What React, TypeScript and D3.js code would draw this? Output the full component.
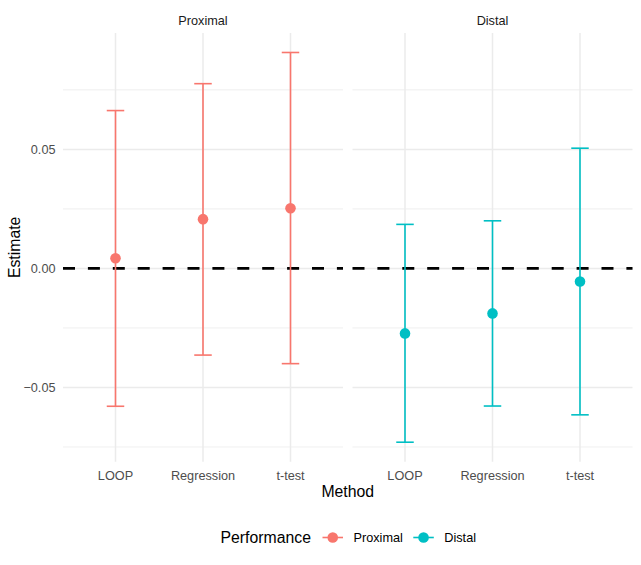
import React, {useRef, useEffect} from 'react';
import * as d3 from 'd3';

const methods = ['LOOP', 'Regression', 't-test'];
const performance = ['Proximal', 'Distal'];
const colors = ['#F8766D', '#00BFC4'];

const proximalEstimate = [0.0043, 0.0207, 0.0253];
const proximalLower = [-0.0579, -0.0364, -0.0400];
const proximalUpper = [0.0663, 0.0776, 0.0907];

const distalEstimate = [-0.0273, -0.0189, -0.0055];
const distalLower = [-0.0730, -0.0578, -0.0615];
const distalUpper = [0.0185, 0.0200, 0.0505];

const majorTicks = [-0.05, 0, 0.05];
const minorTicks = [-0.075, -0.025, 0.025, 0.075];

const W = 641;
const H = 565;
const FONT = '"Liberation Sans", Arial, Helvetica, sans-serif';

const App: React.FC = () => {
    const svgRef = useRef<SVGSVGElement>(null);

    useEffect(() => {
        document.body.style.margin = '0';
        if (!svgRef.current) return;
        const svg = d3.select(svgRef.current);
        svg.selectAll('*').remove();

        const panelTop = 33;
        const panelBottom = 461.7;
        const panels = [
            {x0: 63, x1: 343},
            {x0: 352.5, x1: 632.5},
        ];

        const series = [
            {est: proximalEstimate, lo: proximalLower, hi: proximalUpper},
            {est: distalEstimate, lo: distalLower, hi: distalUpper},
        ];

        // y 范围 + 5% 扩展
        const allVals = series.flatMap(s => [...s.lo, ...s.hi]);
        const yMin = d3.min(allVals) as number;
        const yMax = d3.max(allVals) as number;
        const pad = (yMax - yMin) * 0.05;
        const y = d3.scaleLinear()
            .domain([yMin - pad, yMax + pad])
            .range([panelBottom, panelTop]);

        panels.forEach((p, pi) => {
            const x = d3.scalePoint<string>()
                .domain(methods)
                .range([p.x0, p.x1])
                .padding(0.6);
            const g = svg.append('g');

            // 网格
            minorTicks.forEach(t => {
                g.append('line')
                    .attr('x1', p.x0).attr('x2', p.x1)
                    .attr('y1', y(t)).attr('y2', y(t))
                    .style('stroke', '#EBEBEB')
                    .style('stroke-width', 0.8);
            });
            majorTicks.forEach(t => {
                g.append('line')
                    .attr('x1', p.x0).attr('x2', p.x1)
                    .attr('y1', y(t)).attr('y2', y(t))
                    .style('stroke', '#EBEBEB')
                    .style('stroke-width', 1.5);
            });
            methods.forEach(m => {
                g.append('line')
                    .attr('x1', x(m)!).attr('x2', x(m)!)
                    .attr('y1', panelTop).attr('y2', panelBottom)
                    .style('stroke', '#EBEBEB')
                    .style('stroke-width', 1.5);
            });

            // 零线
            g.append('line')
                .attr('x1', p.x0).attr('x2', p.x1)
                .attr('y1', y(0)).attr('y2', y(0))
                .style('stroke', '#000')
                .style('stroke-width', 2.8)
                .style('stroke-dasharray', '12 12.9');

            // 误差线
            const s = series[pi];
            const color = colors[pi];
            const capHalf = 8.75;
            methods.forEach((m, i) => {
                const cx = x(m)!;
                g.append('line')
                    .attr('x1', cx).attr('x2', cx)
                    .attr('y1', y(s.lo[i])).attr('y2', y(s.hi[i]))
                    .style('stroke', color).style('stroke-width', 1.6);
                [s.lo[i], s.hi[i]].forEach(v => {
                    g.append('line')
                        .attr('x1', cx - capHalf).attr('x2', cx + capHalf)
                        .attr('y1', y(v)).attr('y2', y(v))
                        .style('stroke', color).style('stroke-width', 1.6);
                });
                g.append('circle')
                    .attr('cx', cx).attr('cy', y(s.est[i]))
                    .attr('r', 5.3)
                    .style('fill', color);

                // x 刻度标签
                svg.append('text')
                    .attr('x', cx).attr('y', 479.5)
                    .attr('text-anchor', 'middle')
                    .style('font-family', FONT)
                    .style('font-size', '12.7px')
                    .style('fill', '#4D4D4D')
                    .text(m);
            });

            // 分面标题
            svg.append('text')
                .attr('x', (p.x0 + p.x1) / 2).attr('y', 25)
                .attr('text-anchor', 'middle')
                .style('font-family', FONT)
                .style('font-size', '12.7px')
                .style('fill', '#1A1A1A')
                .text(performance[pi]);
        });

        // y 刻度标签
        majorTicks.forEach(t => {
            svg.append('text')
                .attr('x', 55.5).attr('y', y(t))
                .attr('dy', '0.35em')
                .attr('text-anchor', 'end')
                .style('font-family', FONT)
                .style('font-size', '12.7px')
                .style('fill', '#4D4D4D')
                .text(d3.format('.2f')(t));
        });

        // 轴标题
        svg.append('text')
            .attr('x', (panels[0].x0 + panels[1].x1) / 2).attr('y', 497)
            .attr('text-anchor', 'middle')
            .style('font-family', FONT)
            .style('font-size', '15.8px')
            .style('fill', '#000')
            .text('Method');

        svg.append('text')
            .attr('transform', `translate(19.5, ${(panelTop + panelBottom) / 2}) rotate(-90)`)
            .attr('text-anchor', 'middle')
            .style('font-family', FONT)
            .style('font-size', '15.8px')
            .style('fill', '#000')
            .text('Estimate');

        // 图例
        const legendY = 537.5;
        svg.append('text')
            .attr('x', 220.5).attr('y', legendY)
            .attr('dy', '0.35em')
            .style('font-family', FONT)
            .style('font-size', '15.8px')
            .style('fill', '#000')
            .text('Performance');

        const keyX = [322.5, 413.3];
        performance.forEach((name, i) => {
            const lg = svg.append('g');
            lg.append('line')
                .attr('x1', keyX[i]).attr('x2', keyX[i] + 20.5)
                .attr('y1', legendY).attr('y2', legendY)
                .style('stroke', colors[i]).style('stroke-width', 1.6);
            lg.append('circle')
                .attr('cx', keyX[i] + 10.25).attr('cy', legendY)
                .attr('r', 5.3)
                .style('fill', colors[i]);
            lg.append('text')
                .attr('x', keyX[i] + 31).attr('y', legendY)
                .attr('dy', '0.35em')
                .style('font-family', FONT)
                .style('font-size', '12.7px')
                .style('fill', '#000')
                .text(name);
        });
    }, []);

    return (
        <svg
            ref={svgRef}
            width={W}
            height={H}
            viewBox={`0 0 ${W} ${H}`}
            style={{display: 'block', background: '#fff'}}
        />
    );
};

export default App;
